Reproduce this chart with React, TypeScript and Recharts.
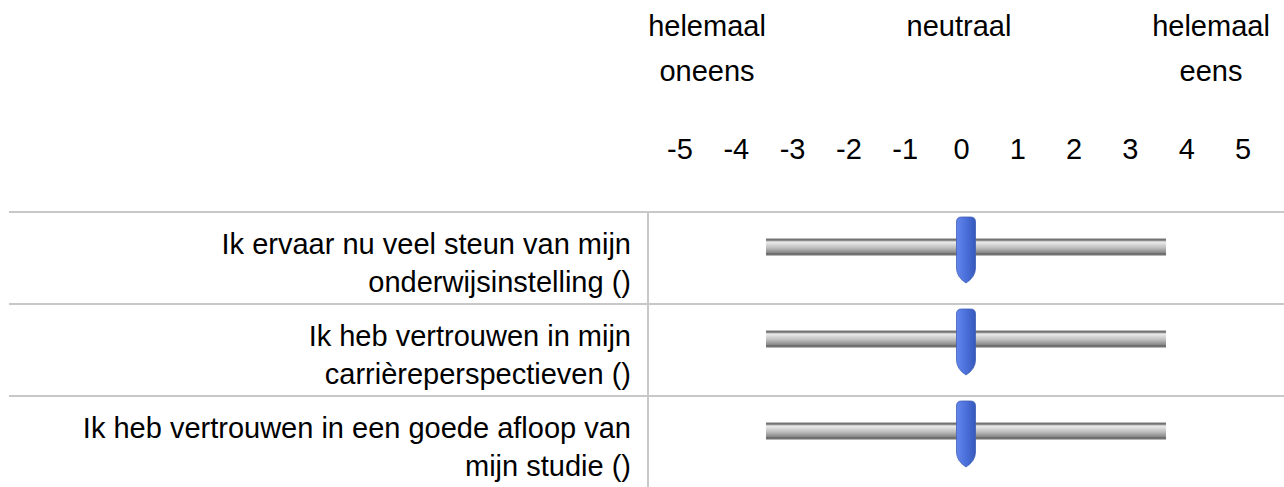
import React from "react";
import {
  Bar,
  ComposedChart,
  Line,
  ReferenceDot,
  XAxis,
  YAxis,
} from "recharts";

// statements, already split into the lines they wrap to
const statements = [
  ["Ik ervaar nu veel steun van mijn", "onderwijsinstelling ()"],
  ["Ik heb vertrouwen in mijn", "carrièreperspectieven ()"],
  ["Ik heb vertrouwen in een goede afloop van", "mijn studie ()"],
];
const sliderValues = [0, 0, 0];
const sliderRange = [-5, 5];
const scaleTicks = [-5, -4, -3, -2, -1, 0, 1, 2, 3, 4, 5];
const anchorTicks = [-5, 0, 5];
const anchorText = [["helemaal", "oneens"], ["neutraal"], ["helemaal", "eens"]];

const FONT = '"Liberation Sans", Arial, sans-serif';
const ROW_HALF = 46;
const GRID = "#c8c8c8";

const rows = statements.map((lines, i) => ({
  label: lines.join(" "),
  lines,
  range: sliderRange,
  value: sliderValues[i],
}));

const ScaleTick = (props: any) => {
  const { x, payload } = props;
  return (
    <text x={x} y={159} textAnchor="middle" fontSize={29} fontFamily={FONT} fill="#000">
      {payload.value}
    </text>
  );
};

const AnchorTick = (props: any) => {
  const { x, payload } = props;
  const idx = anchorTicks.indexOf(payload.value);
  const lines = anchorText[idx] || [];
  return (
    <text x={x} y={36} textAnchor="middle" fontSize={29} fontFamily={FONT} fill="#000">
      {lines.map((l, i) => (
        <tspan key={i} x={x} dy={i === 0 ? 0 : 45}>
          {l}
        </tspan>
      ))}
    </text>
  );
};

const RowTick = (props: any) => {
  const { x, y, payload } = props;
  const row = rows.find((r) => r.label === payload.value);
  const lines = row ? row.lines : [payload.value];
  return (
    <g>
      <line x1={9} x2={1284} y1={y - ROW_HALF} y2={y - ROW_HALF} stroke={GRID} strokeWidth={2} />
      <text x={x - 9} y={y - 4} textAnchor="end" fontSize={29} fontFamily={FONT} fill="#000">
        {lines.map((l: string, i: number) => (
          <tspan key={i} x={x - 9} dy={i === 0 ? 0 : 38}>
            {l}
          </tspan>
        ))}
      </text>
    </g>
  );
};

const TrackShape = (props: any) => {
  const { x, y, width, height } = props;
  const cy = y + height / 2 - 11;
  return <rect x={x} y={cy - 9} width={width} height={18} fill="url(#trackGrad)" />;
};

const HandleShape = (props: any) => {
  const { cx, cy } = props;
  const c = cy - 8;
  const top = c - 33;
  const bottom = c + 33;
  const w = 9.5;
  const d = `M ${cx - w} ${top + 5} Q ${cx - w} ${top} ${cx - w + 5} ${top} L ${cx + w - 5} ${top} Q ${cx + w} ${top} ${cx + w} ${top + 5} L ${cx + w} ${bottom - 15} Q ${cx + w} ${bottom - 6} ${cx} ${bottom} Q ${cx - w} ${bottom - 6} ${cx - w} ${bottom - 15} Z`;
  return <path d={d} fill="url(#handleGrad)" stroke="#3f5fb8" strokeWidth={0.8} />;
};

export default function App() {
  return (
    <div
      style={{
        position: "fixed",
        left: 0,
        top: 0,
        width: 1284,
        height: 487,
        overflow: "hidden",
        background: "#fff",
      }}
    >
      <ComposedChart
        layout="vertical"
        width={1284}
        height={488}
        data={rows}
        margin={{ top: 0, right: 0, bottom: 0, left: 0 }}
      >
        <defs>
          <linearGradient id="trackGrad" x1="0" y1="0" x2="0" y2="1">
            <stop offset="0" stopColor="#e2e2e2" />
            <stop offset="0.1" stopColor="#5c5c5c" />
            <stop offset="0.22" stopColor="#ececec" />
            <stop offset="0.55" stopColor="#bdbdbd" />
            <stop offset="0.8" stopColor="#8c8c8c" />
            <stop offset="0.9" stopColor="#5c5c5c" />
            <stop offset="1" stopColor="#dadada" />
          </linearGradient>
          <linearGradient id="handleGrad" x1="0" y1="0" x2="1" y2="0">
            <stop offset="0" stopColor="#6486ec" />
            <stop offset="0.5" stopColor="#4b70da" />
            <stop offset="1" stopColor="#3658bb" />
          </linearGradient>
        </defs>
        <XAxis xAxisId="slider" type="number" domain={sliderRange} hide padding={{ left: 118, right: 118 }} />
        <XAxis
          xAxisId="scale"
          orientation="top"
          type="number"
          domain={[-5, 5]}
          ticks={scaleTicks}
          interval={0}
          height={106}
          padding={{ left: 32, right: 41 }}
          axisLine={false}
          tickLine={false}
          tick={ScaleTick}
        />
        <XAxis
          xAxisId="anchor"
          orientation="top"
          type="number"
          domain={[-5, 5]}
          ticks={anchorTicks}
          interval={0}
          height={106}
          padding={{ left: 59, right: 73 }}
          axisLine={false}
          tickLine={false}
          tick={AnchorTick}
        />
        <YAxis
          type="category"
          dataKey="label"
          width={648}
          interval={0}
          tickLine={false}
          axisLine={{ stroke: GRID, strokeWidth: 2 }}
          tick={RowTick}
        />
        <Bar xAxisId="slider" dataKey="range" barSize={18} shape={TrackShape} isAnimationActive={false} />
        {/* invisible series so the two top axes get built */}
        <Line xAxisId="scale" dataKey="value" stroke="none" dot={false} activeDot={false} legendType="none" isAnimationActive={false} />
        <Line xAxisId="anchor" dataKey="value" stroke="none" dot={false} activeDot={false} legendType="none" isAnimationActive={false} />
        {rows.map((r) => (
          <ReferenceDot
            key={r.label}
            xAxisId="slider"
            x={r.value}
            y={r.label}
            ifOverflow="visible"
            shape={HandleShape}
          />
        ))}
      </ComposedChart>
    </div>
  );
}
